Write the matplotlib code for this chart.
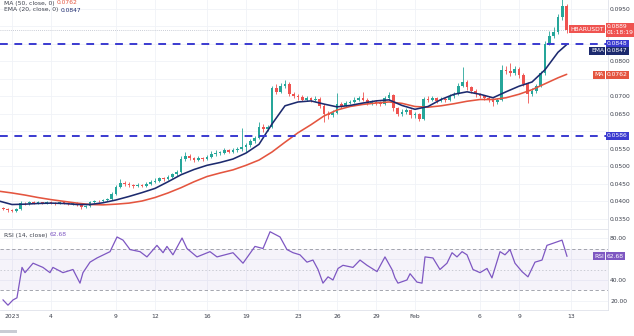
import numpy as np
import matplotlib
matplotlib.use("Agg")
import matplotlib.pyplot as plt
import matplotlib.transforms as mtransforms

# ---------------- data ----------------
first_open = 0.0380
closes = [0.0378, 0.0373,
          0.0372, 0.0376, 0.0394, 0.0393, 0.0397, 0.0395, 0.0396, 0.0394, 0.0397,
          0.0395, 0.0393, 0.0396, 0.0394, 0.0392, 0.0395, 0.0390, 0.0382, 0.0385,
          0.0398, 0.0401, 0.0399, 0.0403, 0.0405, 0.0420, 0.0440, 0.0452, 0.0448,
          0.0447, 0.0443, 0.0446, 0.0444, 0.0448, 0.0455, 0.0458, 0.0465, 0.0462,
          0.0470, 0.0476, 0.0482, 0.0520, 0.0530, 0.0522, 0.0518, 0.0523, 0.0520,
          0.0525, 0.0535, 0.0538, 0.0538, 0.0545, 0.0541, 0.0545, 0.0548, 0.0553,
          0.0560, 0.0572, 0.0580, 0.0612, 0.0606, 0.0611, 0.0722, 0.0712, 0.0730,
          0.0735, 0.0705, 0.0700, 0.0697, 0.0690, 0.0694, 0.0690, 0.0692, 0.0672,
          0.0650, 0.0645, 0.0652, 0.0676, 0.0672, 0.0680, 0.0684, 0.0690, 0.0693,
          0.0690, 0.0680, 0.0683, 0.0680, 0.0678, 0.0695, 0.0702, 0.0665, 0.0650,
          0.0655, 0.0660, 0.0645, 0.0648, 0.0635, 0.0692, 0.0690, 0.0694, 0.0686,
          0.0692, 0.0688, 0.0700, 0.0705, 0.0730, 0.0740, 0.0725, 0.0715, 0.0705,
          0.0700, 0.0695, 0.0690, 0.0684, 0.0688, 0.0775, 0.0772, 0.0765, 0.0778,
          0.0760, 0.0735, 0.0705, 0.0715, 0.0728, 0.0765, 0.0850, 0.0872, 0.0882,
          0.0925, 0.0958, 0.0889]
highs = [0.0384, 0.0380,
         0.0377, 0.0379, 0.0399, 0.0398, 0.0401, 0.0400, 0.0399, 0.0398, 0.0400,
         0.0399, 0.0397, 0.0399, 0.0398, 0.0396, 0.0398, 0.0397, 0.0392, 0.0388,
         0.0401, 0.0404, 0.0404, 0.0406, 0.0409, 0.0426, 0.0446, 0.0462, 0.0456,
         0.0453, 0.0450, 0.0451, 0.0450, 0.0455, 0.0461, 0.0467, 0.0470, 0.0469,
         0.0475, 0.0480, 0.0488, 0.0528, 0.0541, 0.0534, 0.0527, 0.0529, 0.0527,
         0.0531, 0.0543, 0.0545, 0.0544, 0.0551, 0.0549, 0.0551, 0.0553, 0.0609,
         0.0566, 0.0578, 0.0586, 0.0626, 0.0620, 0.0618, 0.0728, 0.0734, 0.0738,
         0.0746, 0.0740, 0.0712, 0.0705, 0.0702, 0.0700, 0.0698, 0.0700, 0.0696,
         0.0676, 0.0658, 0.0660, 0.0709, 0.0682, 0.0686, 0.0690, 0.0697, 0.0700,
         0.0711, 0.0694, 0.0689, 0.0688, 0.0685, 0.0700, 0.0711, 0.0706, 0.0670,
         0.0662, 0.0666, 0.0664, 0.0655, 0.0652, 0.0698, 0.0699, 0.0700, 0.0698,
         0.0698, 0.0696, 0.0706, 0.0712, 0.0737, 0.0783, 0.0746, 0.0730, 0.0720,
         0.0710, 0.0704, 0.0700, 0.0694, 0.0695, 0.0789, 0.0785, 0.0794, 0.0786,
         0.0782, 0.0765, 0.0740, 0.0722, 0.0735, 0.0772, 0.0858, 0.0885, 0.0897,
         0.0935, 0.0978, 0.0962]
lows = [0.0374, 0.0370,
        0.0368, 0.0370, 0.0375, 0.0389, 0.0390, 0.0392, 0.0392, 0.0391, 0.0392,
        0.0392, 0.0390, 0.0391, 0.0391, 0.0388, 0.0390, 0.0387, 0.0378, 0.0379,
        0.0384, 0.0395, 0.0396, 0.0397, 0.0400, 0.0403, 0.0418, 0.0437, 0.0442,
        0.0441, 0.0438, 0.0440, 0.0439, 0.0441, 0.0445, 0.0451, 0.0455, 0.0457,
        0.0459, 0.0466, 0.0472, 0.0480, 0.0515, 0.0516, 0.0512, 0.0514, 0.0515,
        0.0516, 0.0522, 0.0530, 0.0532, 0.0534, 0.0536, 0.0537, 0.0540, 0.0544,
        0.0540, 0.0555, 0.0567, 0.0578, 0.0598, 0.0600, 0.0608, 0.0705, 0.0708,
        0.0722, 0.0700, 0.0694, 0.0690, 0.0685, 0.0686, 0.0684, 0.0686, 0.0665,
        0.0626, 0.0635, 0.0640, 0.0650, 0.0665, 0.0668, 0.0676, 0.0680, 0.0686,
        0.0685, 0.0675, 0.0675, 0.0674, 0.0672, 0.0675, 0.0690, 0.0658, 0.0643,
        0.0644, 0.0648, 0.0638, 0.0638, 0.0629, 0.0632, 0.0684, 0.0685, 0.0680,
        0.0682, 0.0683, 0.0685, 0.0695, 0.0702, 0.0725, 0.0718, 0.0708, 0.0698,
        0.0693, 0.0688, 0.0684, 0.0672, 0.0678, 0.0685, 0.0763, 0.0758, 0.0760,
        0.0752, 0.0728, 0.0680, 0.0700, 0.0710, 0.0725, 0.0760, 0.0845, 0.0866,
        0.0878, 0.0918, 0.0880]
candle_start_day = -2 / 3      # day offset of first candle (day 0 = Jan 1 2023)
candle_step = 1 / 3            # three candles per day

line_days = list(range(-1, 43)) + [42.67]
ema20 = [0.0400, 0.0390, 0.0391, 0.0393, 0.0394, 0.0393, 0.0390, 0.0390, 0.0395,
         0.0403, 0.0413, 0.0424, 0.0436, 0.0455, 0.0475, 0.0490, 0.0502, 0.0510,
         0.0520, 0.0537, 0.0562, 0.0620, 0.0672, 0.0683, 0.0686, 0.0677, 0.0669,
         0.0673, 0.0680, 0.0686, 0.0689, 0.0673, 0.0662, 0.0670, 0.0690, 0.0705,
         0.0712, 0.0705, 0.0695, 0.0712, 0.0728, 0.0740, 0.0775, 0.0825, 0.0847]
ma50 = [0.0428, 0.0423, 0.0417, 0.0410, 0.0404, 0.0399, 0.0394, 0.0390, 0.0389,
        0.0391, 0.0394, 0.0400, 0.0410, 0.0423, 0.0438, 0.0455, 0.0470, 0.0480,
        0.0489, 0.0502, 0.0517, 0.0540, 0.0568, 0.0595, 0.0618, 0.0643, 0.0660,
        0.0670, 0.0676, 0.0680, 0.0683, 0.0679, 0.0670, 0.0668, 0.0672, 0.0678,
        0.0685, 0.0690, 0.0690, 0.0695, 0.0705, 0.0718, 0.0735, 0.0752, 0.0762]

rsi_days = [-0.69, -0.31, 0.08, 0.38, 0.77, 1.0, 1.62, 2.38, 2.92, 3.15, 3.92, 4.69,
            5.23, 5.46, 6.0, 6.54, 7.54, 8.08, 8.54, 9.08, 9.85, 10.38, 11.15, 11.62,
            11.92, 12.38, 13.08, 13.46, 14.23, 15.23, 15.77, 17.0, 17.77, 18.69, 19.31,
            19.85, 20.62, 21.15, 21.62, 22.15, 22.69, 23.15, 23.54, 23.92, 24.31, 24.69,
            25.08, 25.46, 26.23, 26.77, 27.31, 28.08, 28.69, 29.23, 29.46, 29.69, 30.38,
            30.62, 31.15, 31.54, 31.77, 32.38, 32.92, 33.46, 33.85, 34.23, 34.62, 35.0,
            35.46, 36.0, 36.54, 36.92, 37.54, 37.92, 38.31, 38.69, 39.23, 39.69, 40.23,
            40.77, 41.15, 41.62, 42.31, 42.69]
rsi_vals = [21, 16, 21, 23, 52, 47, 56, 52, 47, 52, 47, 50,
            37, 47, 57, 61, 67, 81, 78, 69, 67, 62, 73, 66,
            72, 64, 80, 70, 62, 67, 62, 66, 56, 72, 70,
            86, 81, 69, 66, 64, 57, 59, 50, 37, 43, 40,
            51, 54, 52, 59, 54, 48, 62, 50, 42, 37, 40,
            46, 38, 37, 62, 61, 50, 56, 66, 62, 67, 64,
            50, 47, 51, 42, 67, 64, 69, 56, 48, 43, 57,
            59, 73, 75, 78, 62.68]

levels = [0.0848, 0.0586]
last_price = 0.0889
ema_last, ma_last, rsi_last = 0.0847, 0.0762, 62.68
symbol = "HBARUSDT"
countdown = "01:18:19"

# tick values; those hidden under the value tags in the reference get blank labels
price_ticks = [0.035, 0.040, 0.045, 0.050, 0.055, 0.060, 0.065, 0.070, 0.075,
               0.080, 0.085, 0.090, 0.095]
price_hidden = [0.060, 0.075, 0.085, 0.090]
rsi_ticks = [20, 40, 60, 80]
rsi_hidden = [60]
xtick_days = [0, 3, 8, 11, 15, 18, 22, 25, 28, 31, 36, 39, 43]
xtick_labels = ["2023", "4", "9", "12", "16", "19", "23", "26", "29", "Feb", "6", "9", "13"]

# ---------------- styling ----------------
UP, DOWN = "#26a69a", "#ef5350"
EMA_C, MA_C = "#1c2a6e", "#e4553f"
LEVEL_C = "#3a3ad0"
RSI_C = "#7e57c2"
GRID_C = "#f0f2f7"
TXT_C = "#3a3e4a"
FS = 4.3

W, H = 634, 336
fig = plt.figure(figsize=(W / 100, H / 100), dpi=100)
fig.patch.set_facecolor("white")

ax = fig.add_axes([0, 1 - 228 / H, 608 / W, 228 / H])
axr = fig.add_axes([0, 1 - 310 / H, 608 / W, 81 / H])

xmin, xmax = -12 / 13, (608 - 12) / 13
for a in (ax, axr):
    a.set_xlim(xmin, xmax)
    a.set_xticks(xtick_days)
    a.grid(True, color=GRID_C, lw=0.6, zorder=0)
    a.set_axisbelow(True)
    for s in a.spines.values():
        s.set_visible(False)
    a.yaxis.tick_right()
    a.tick_params(axis="both", length=0, labelsize=FS, labelcolor=TXT_C, pad=1.5)
    a.spines["right"].set_visible(True)
    a.spines["right"].set_color("#dfe2ea")
    a.spines["right"].set_linewidth(0.6)

ax.set_ylim(0.03229, 0.09743)
ax.set_yticks(price_ticks)
ax.set_yticklabels(["" if any(abs(v - h) < 1e-9 for h in price_hidden) else f"{v:.4f}"
                    for v in price_ticks])
ax.tick_params(axis="x", labelbottom=False)

axr.set_ylim(11.4, 88.6)
axr.set_yticks(rsi_ticks)
axr.set_yticklabels(["" if v in rsi_hidden else f"{v:.2f}" for v in rsi_ticks])
axr.set_xticklabels(xtick_labels)
axr.tick_params(axis="x", pad=3)
for s in ("top", "bottom"):
    axr.spines[s].set_visible(True)
    axr.spines[s].set_color("#dfe2ea")
    axr.spines[s].set_linewidth(0.6)

# ---------------- candles ----------------
closes_a = np.array(closes)
opens_a = np.concatenate([[first_open], closes_a[:-1]])
t = candle_start_day + candle_step * np.arange(len(closes_a))
cols = np.where(closes_a >= opens_a, UP, DOWN)
body_h = np.where(np.abs(closes_a - opens_a) < 0.00008, 0.00008, closes_a - opens_a)
ax.vlines(t, lows, highs, colors=cols, lw=0.6, zorder=3)
ax.bar(t, body_h, bottom=opens_a, width=0.2, color=cols, lw=0, zorder=4)

# moving averages
ax.plot(line_days, ma50, color=MA_C, lw=1.15, zorder=5, solid_capstyle="round")
ax.plot(line_days, ema20, color=EMA_C, lw=1.15, zorder=6, solid_capstyle="round")

# horizontal levels
for lv in levels:
    ax.axhline(lv, color=LEVEL_C, lw=1.4, dashes=(4.0, 3.4), zorder=7)
ax.axhline(last_price, color="#b8bcc8", lw=0.6, ls=(0, (1, 1.5)), zorder=2)

# ---------------- right-side labels ----------------
tr_p = mtransforms.blended_transform_factory(fig.transFigure, ax.transData)
tr_r = mtransforms.blended_transform_factory(fig.transFigure, axr.transData)
box = lambda c: dict(boxstyle="square,pad=0.25", fc=c, ec="none")
vx = 607 / W

def tag(tr, x, y, s, c, ha="left"):
    ax.text(x, y, s, transform=tr, color="white", fontsize=FS, ha=ha, va="center",
            bbox=box(c), clip_on=False, zorder=20)

tag(tr_p, vx, last_price, f"{last_price:.4f}\n{countdown}", DOWN)
tag(tr_p, 604 / W, last_price + 0.0002, symbol, DOWN, ha="right")
tag(tr_p, vx, levels[0] + 0.0002, f"{levels[0]:.4f}", LEVEL_C)
tag(tr_p, vx, ema_last - 0.0018, f"{ema_last:.4f}", EMA_C)
tag(tr_p, 604 / W, ema_last - 0.0018, "EMA", EMA_C, ha="right")
tag(tr_p, vx, ma_last - 0.0001, f"{ma_last:.4f}", MA_C)
tag(tr_p, 604 / W, ma_last - 0.0001, "MA", MA_C, ha="right")
tag(tr_p, vx, levels[1], f"{levels[1]:.4f}", LEVEL_C)
axr.text(vx, rsi_last, f"{rsi_last:.2f}", transform=tr_r, color="white", fontsize=FS,
         ha="left", va="center", bbox=box(RSI_C), clip_on=False, zorder=20)
axr.text(604 / W, rsi_last, "RSI", transform=tr_r, color="white", fontsize=FS,
         ha="right", va="center", bbox=box(RSI_C), clip_on=False, zorder=20)

# ---------------- RSI pane ----------------
axr.axhspan(30, 70, color=RSI_C, alpha=0.07, lw=0, zorder=1)
axr.axhline(70, color="#9598a1", lw=0.6, dashes=(4, 3), zorder=2)
axr.axhline(30, color="#9598a1", lw=0.6, dashes=(4, 3), zorder=2)
axr.axhline(50, color="#b8bbc4", lw=0.5, dashes=(2, 3), zorder=2)
axr.plot(rsi_days, rsi_vals, color=RSI_C, lw=0.9, zorder=5)

# ---------------- legends / titles ----------------
fig.canvas.draw()
renderer = fig.canvas.get_renderer()

def two_part(x_px, y_px, first, second, c2):
    t1 = fig.text(x_px / W, 1 - y_px / H, first, fontsize=FS, color=TXT_C, va="center")
    bb = t1.get_window_extent(renderer)
    fig.text(bb.x1 / W + 2 / W, 1 - y_px / H, second, fontsize=FS, color=c2, va="center")

two_part(4, 3, "MA (50, close, 0)", f"{ma_last:.4f}", MA_C)
two_part(4, 10, "EMA (20, close, 0)", f"{ema_last:.4f}", EMA_C)
two_part(4, 235, "RSI (14, close)", f"{rsi_last:.2f}", RSI_C)

# scrollbar stub
fig.patches.append(plt.Rectangle((0, 1 - 333 / H), 17 / W, 3 / H, transform=fig.transFigure,
                                 color="#c9ccd4", lw=0))

fig.savefig("out.png", dpi=100)
